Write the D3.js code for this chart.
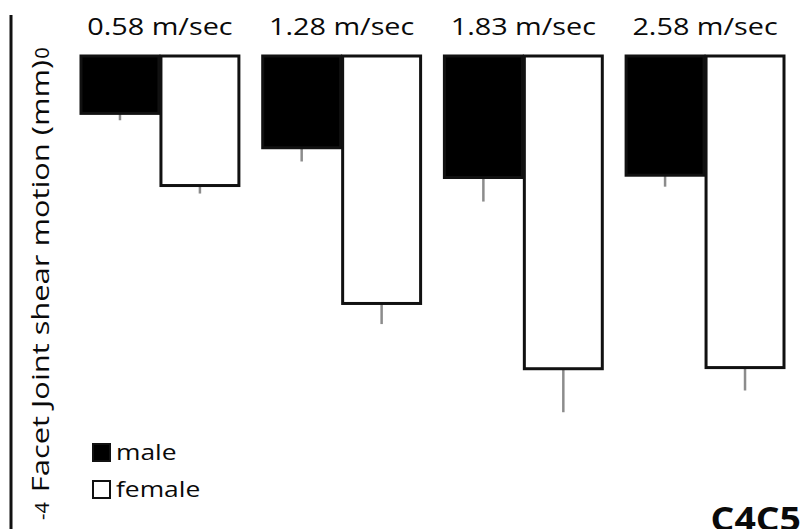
<!DOCTYPE html>
<html>
<head>
<meta charset="utf-8">
<script src="https://cdn.jsdelivr.net/npm/d3@7"></script>
<style>
  html, body { margin: 0; padding: 0; background: #fff; }
  svg { display: block; }
  text { font-family: "Open Sans", "DejaVu Sans", sans-serif; fill: #0a0a0a; }
</style>
</head>
<body>
<svg id="chart" width="800" height="529"></svg>
<script>
// ---- data ----
const categories = ["0.58 m/sec", "1.28 m/sec", "1.83 m/sec", "2.58 m/sec"];
const groups = ["male", "female"];
const maleValues = [-0.51, -0.81, -1.07, -1.05];
const femaleValues = [-1.14, -2.17, -2.74, -2.73];
const maleErrors = [0.06, 0.12, 0.21, 0.10];
const femaleErrors = [0.07, 0.18, 0.38, 0.20];
const yTicks = [0, -4];
const yTitle = "Facet Joint shear motion (mm)";
const panelLabel = "C4C5";

const svg = d3.select("#chart");
const W = 800, H = 529;
const stretch = 1.2; // reference type is wide

const x0 = d3.scaleBand().domain(categories).range([80, 785]).paddingInner(0.12).paddingOuter(0);
const x1 = d3.scaleBand().domain(groups).range([0, x0.bandwidth()]);
const y = d3.scaleLinear().domain([-4, 0]).range([513, 55]);
const fill = d3.scaleOrdinal().domain(groups).range(["#000", "#fff"]);

const rows = [];
categories.forEach((c, i) => {
  rows.push({cat: c, g: "male", v: maleValues[i], e: maleErrors[i]});
  rows.push({cat: c, g: "female", v: femaleValues[i], e: femaleErrors[i]});
});

// y axis line
svg.append("line")
  .attr("x1", 11).attr("x2", 11)
  .attr("y1", 15).attr("y2", H)
  .attr("stroke", "#111").attr("stroke-width", 3);

// error bars (drawn first, below bars)
svg.append("g").selectAll("line").data(rows).join("line")
  .attr("x1", d => x0(d.cat) + x1(d.g) + x1.bandwidth() / 2)
  .attr("x2", d => x0(d.cat) + x1(d.g) + x1.bandwidth() / 2)
  .attr("y1", d => y(d.v))
  .attr("y2", d => y(d.v - d.e))
  .attr("stroke", "#8c8c8c").attr("stroke-width", 2.5);

// bars
svg.append("g").selectAll("rect").data(rows).join("rect")
  .attr("x", d => x0(d.cat) + x1(d.g) + 1)
  .attr("y", d => y(0) + 1)
  .attr("width", x1.bandwidth() - 2)
  .attr("height", d => y(d.v) - y(0) - 1)
  .attr("fill", d => fill(d.g))
  .attr("stroke", "#111").attr("stroke-width", 3);

// category labels
svg.append("g").selectAll("text").data(categories).join("text")
  .attr("transform", d => `translate(${x0(d) + x0.bandwidth() / 2},35) scale(${stretch},1)`)
  .attr("text-anchor", "middle")
  .attr("font-size", 24)
  .text(d => d);

// y tick labels (rotated)
svg.append("g").selectAll("text").data(yTicks).join("text")
  .attr("transform", d => `translate(49,${y(d) - 2}) rotate(-90)`)
  .attr("text-anchor", "middle")
  .attr("font-size", 20)
  .text(d => d);

// y title
svg.append("text")
  .attr("transform", `translate(49,276) rotate(-90) scale(1.26,1)`)
  .attr("text-anchor", "middle")
  .attr("font-size", 24.5)
  .text(yTitle);

// legend
const leg = svg.append("g").attr("transform", "translate(92,443)");
groups.forEach((g, i) => {
  const row = leg.append("g").attr("transform", `translate(0,${i * 37})`);
  row.append("rect").attr("x", 1).attr("y", 1).attr("width", 17).attr("height", 17)
    .attr("fill", fill(g)).attr("stroke", "#111").attr("stroke-width", 2);
  row.append("text").attr("transform", `translate(24,17) scale(${stretch},1)`)
    .attr("font-size", 22).text(g);
});

// panel label
svg.append("text")
  .attr("transform", `translate(801,531) scale(1.1,1)`)
  .attr("text-anchor", "end")
  .attr("font-size", 34).attr("font-weight", "bold")
  .text(panelLabel);
</script>
</body>
</html>
